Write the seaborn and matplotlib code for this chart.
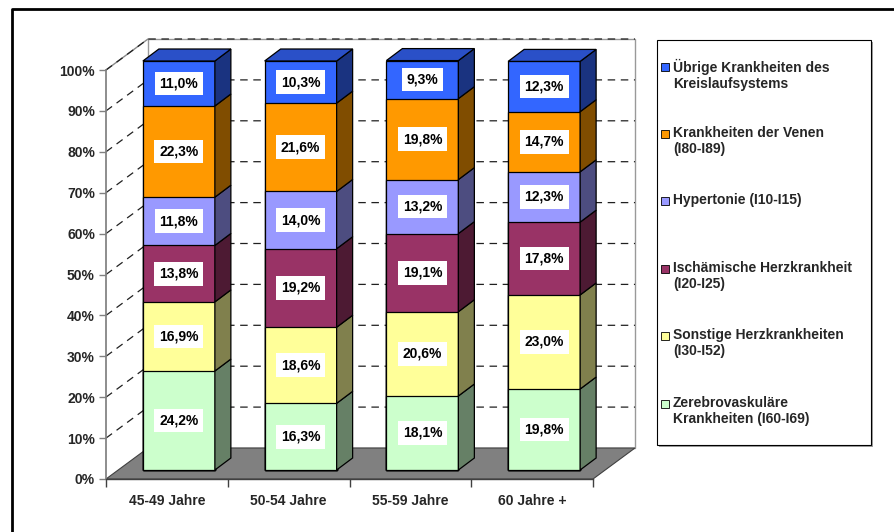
"""
Stacked 3D-style bar chart: causes of circulatory disease by age group.
"""
import matplotlib
matplotlib.use("Agg")
import matplotlib.pyplot as plt
import matplotlib.transforms as mtransforms
from matplotlib.patches import Polygon, Rectangle
from matplotlib.lines import Line2D
import seaborn as sns
import numpy as np

# --- data (bottom to top) ---
age_groups = ["45-49 Jahre", "50-54 Jahre", "55-59 Jahre", "60 Jahre +"]
series_names = [
    "Zerebrovaskuläre\nKrankheiten (I60-I69)",
    "Sonstige Herzkrankheiten\n(I30-I52)",
    "Ischämische Herzkrankheit\n(I20-I25)",
    "Hypertonie (I10-I15)",
    "Krankheiten der Venen\n(I80-I89)",
    "Übrige Krankheiten des\nKreislaufsystems",
]
zerebro = [24.2, 16.3, 18.1, 19.8]
sonstige = [16.9, 18.6, 20.6, 23.0]
ischaem = [13.8, 19.2, 19.1, 17.8]
hypertonie = [11.8, 14.0, 13.2, 12.3]
venen = [22.3, 21.6, 19.8, 14.7]
uebrige = [11.0, 10.3, 9.3, 12.3]
series_values = [zerebro, sonstige, ischaem, hypertonie, venen, uebrige]

front_colors = ["#CCFFCC", "#FFFF99", "#993366", "#9999FF", "#FF9900", "#3366FF"]
side_colors = ["#668066", "#80804D", "#4D1A33", "#4D4D80", "#804D00", "#1A3380"]
top_color = "#2A50C8"

sns.set_theme(style="white")
plt.rcParams["font.family"] = ["Liberation Sans", "DejaVu Sans"]
plt.rcParams["font.weight"] = "bold"

W, H, DPI = 895, 532, 100
fig = plt.figure(figsize=(W / DPI, H / DPI), dpi=DPI)
fig.patch.set_facecolor("white")

# front plane of the 3D box in pixels
x0_px, x1_px, ytop_px, ybot_px = 106, 593, 70, 479
ax = fig.add_axes([x0_px / W, 1 - ybot_px / H, (x1_px - x0_px) / W, (ybot_px - ytop_px) / H])
ax.patch.set_alpha(0)

n = len(age_groups)
px_x = (x1_px - x0_px) / n          # pixels per category
px_y = (ybot_px - ytop_px) / 100.0  # pixels per percent

# depth vectors (pixels -> data units)
Dx, Dy = 42 / px_x, 31 / px_y       # full box depth
bdx, bdy = 16 / px_x, 12 / px_y     # bar depth
bar_w = 72 / px_x

off = ax.transData + mtransforms.ScaledTranslation(12 / DPI, 9 / DPI, fig.dpi_scale_trans)

# walls and floor
xl, xr = -0.5, n - 0.5
ax.add_patch(Polygon([(xl, 0), (xl, 100), (xl + Dx, 100 + Dy), (xl + Dx, Dy)],
                     closed=True, facecolor="white", edgecolor="none", zorder=0.1, clip_on=False))
ax.add_patch(Rectangle((xl + Dx, Dy), xr - xl, 100, facecolor="white", edgecolor="#999999",
                       linewidth=1, zorder=0.1, clip_on=False))
ax.add_line(Line2D([xl, xl + Dx], [100, 100 + Dy], color="#888888", lw=1, zorder=0.2, clip_on=False))
ax.add_patch(Polygon([(xl, 0), (xr, 0), (xr + Dx, Dy), (xl + Dx, Dy)],
                     closed=True, facecolor="#808080", edgecolor="#404040", linewidth=0.8,
                     zorder=0.3, clip_on=False))

# dashed gridlines on side wall and back wall
for g in range(10, 101, 10):
    ax.add_line(Line2D([xl, xl + Dx, xr + Dx], [g, g + Dy, g + Dy], color="#202020",
                       lw=0.9, ls=(0, (6, 4.5)), zorder=0.25, clip_on=False))

# stacked bars: draw cumulative totals from the top down
cum = np.cumsum(np.array(series_values), axis=0)
for k in range(len(series_values) - 1, -1, -1):
    before = len(ax.patches)
    sns.barplot(x=age_groups, y=cum[k], color=front_colors[k], saturation=1, width=bar_w,
                edgecolor="black", linewidth=0.9, ax=ax, zorder=2)
    for p in ax.patches[before:]:
        p.set_transform(off)
        p.set_clip_on(False)

# side faces, top faces and value labels
for k, vals in enumerate(series_values):
    for i in range(n):
        y1 = cum[k][i]
        y0 = y1 - vals[i]
        xr_b = i + bar_w / 2
        xl_b = i - bar_w / 2
        ax.add_patch(Polygon([(xr_b, y0), (xr_b, y1), (xr_b + bdx, y1 + bdy), (xr_b + bdx, y0 + bdy)],
                             closed=True, facecolor=side_colors[k], edgecolor="black", linewidth=0.9,
                             transform=off, zorder=3, clip_on=False))
        if k == len(series_values) - 1:
            ax.add_patch(Polygon([(xl_b, y1), (xr_b, y1), (xr_b + bdx, y1 + bdy), (xl_b + bdx, y1 + bdy)],
                                 closed=True, facecolor=top_color, edgecolor="black", linewidth=0.9,
                                 transform=off, zorder=3, clip_on=False))
        label = f"{vals[i]:.1f}%".replace(".", ",")
        ax.text(i, (y0 + y1) / 2, label, transform=off, ha="center", va="center",
                fontsize=10, fontweight="bold", color="black", zorder=5,
                bbox=dict(boxstyle="square,pad=0.35", facecolor="white", edgecolor="none"))

# axes styling
ax.set_xlim(xl, xr)
ax.set_ylim(0, 100)
ax.set_xlabel("")
ax.set_ylabel("")
ax.set_yticks(range(0, 101, 10))
ax.set_yticklabels([f"{t}%" for t in range(0, 101, 10)], fontsize=10, fontweight="bold")
ax.set_xticks(range(n))
ax.set_xticklabels(age_groups, fontsize=10, fontweight="bold")
ax.set_xticks(np.arange(-0.5, n, 1.0), minor=True)
ax.tick_params(axis="y", which="major", left=True, length=5, width=1, color="#808080", pad=3)
ax.tick_params(axis="x", which="major", bottom=True, length=0, pad=11)
ax.tick_params(axis="x", which="minor", bottom=True, length=6, width=1, color="#404040")
for side in ["top", "right"]:
    ax.spines[side].set_visible(False)
ax.spines["left"].set_color("#808080")
ax.spines["left"].set_zorder(0.4)
ax.spines["bottom"].set_color("#404040")
ax.spines["bottom"].set_linewidth(1)
ax.grid(False)

# legend box (drawn by hand to match the original layout)
def fx(px):
    return px / W


def fy(py):
    return 1 - py / H


fig.add_artist(Rectangle((fx(659), fy(447)), fx(871) - fx(657), fy(40) - fy(445),
                         transform=fig.transFigure, facecolor="#A0A0A0", edgecolor="none"))
fig.add_artist(Rectangle((fx(657), fy(445)), fx(871) - fx(657), fy(40) - fy(445),
                         transform=fig.transFigure, facecolor="white", edgecolor="black", linewidth=0.8))
legend_y = [67, 134, 201, 269, 336, 404]
for j, k in enumerate(range(len(series_names) - 1, -1, -1)):
    yc = legend_y[j]
    fig.add_artist(Rectangle((fx(661), fy(yc + 4)), fx(8), fy(0) - fy(8), transform=fig.transFigure,
                             facecolor=front_colors[k], edgecolor="black", linewidth=0.6))
    fig.text(fx(673), fy(yc - 8), series_names[k], ha="left", va="top", fontsize=10,
             fontweight="bold", linespacing=1.15)

# outer frame
fig.add_artist(Line2D([fx(12), fx(12), fx(900)], [fy(540), fy(9), fy(9)],
                      transform=fig.transFigure, color="black", lw=2))

fig.savefig("out.png", dpi=DPI)
